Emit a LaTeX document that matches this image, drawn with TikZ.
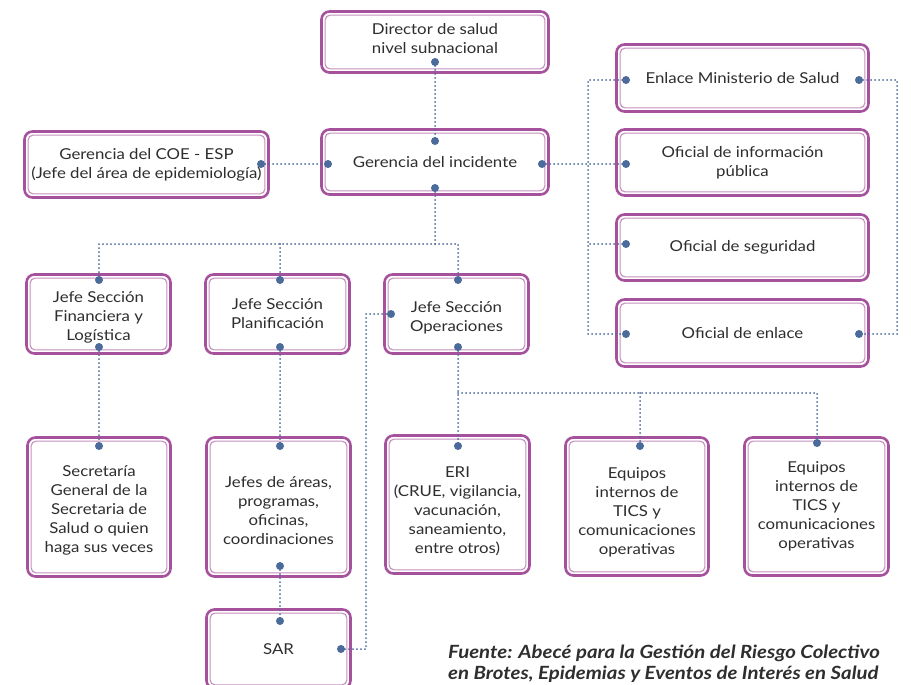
\documentclass[tikz,border=0pt]{standalone}
\usepackage{fontspec}
\setmainfont{Lato}[FakeStretch=1.12]
\definecolor{purp}{HTML}{A5519C}
\definecolor{purpl}{HTML}{C590BE}
\definecolor{conn}{HTML}{4B6B9B}
\definecolor{txt}{HTML}{2E2E2E}
\begin{document}
\begin{tikzpicture}[x=1pt,y=-1pt,
  boxtext/.style={text=txt, align=center, font=\fontsize{15}{19}\selectfont, inner sep=0pt},
  orgbox/.style={boxtext, draw=purp, line width=2.6pt, rounded corners=8pt, fill=white,
    path picture={\draw[purpl, line width=1.1pt, rounded corners=5pt]
      ([shift={(3.6pt,-3.6pt)}]path picture bounding box.north west) rectangle
      ([shift={(-3.6pt,3.6pt)}]path picture bounding box.south east);}},
  tx/.style 2 args={label={[boxtext,yshift=#1]center:{#2}}},
  link/.style={conn, line width=2pt, line cap=round, dash pattern=on 0pt off 4pt},
  pin/.style={fill=conn, draw=none}]
\clip (0,0) rectangle (911,685);
\fill[white] (0,0) rectangle (911,685);

% boxes
\node[orgbox, minimum width=227, minimum height=61, tx={3pt}{Director de salud\\nivel subnacional}] (dir) at (435,42) {};
\node[orgbox, minimum width=227, minimum height=65] (gi) at (435,162) {Gerencia del incidente};
\node[orgbox, minimum width=244, minimum height=66] (coe) at (146.5,164.5) {Gerencia del COE - ESP\\(Jefe del área de epidemiología)};
\node[orgbox, minimum width=252, minimum height=67] (enl) at (742.5,78) {Enlace Ministerio de Salud};
\node[orgbox, minimum width=252, minimum height=66] (info) at (742.5,162.5) {Oficial de información\\pública};
\node[orgbox, minimum width=252, minimum height=66] (seg) at (742.5,247.5) {Oficial de seguridad};
\node[orgbox, minimum width=252, minimum height=67] (ofe) at (742.5,333) {Oficial de enlace};
\node[orgbox, minimum width=144, minimum height=79, tx={-3.5pt}{Jefe Sección\\Financiera y\\Logística}] (jf) at (98.5,314) {};
\node[orgbox, minimum width=144, minimum height=79] (jp) at (277.5,314) {Jefe Sección\\Planificación};
\node[orgbox, minimum width=144, minimum height=79, tx={-3.5pt}{Jefe Sección\\Operaciones}] (jo) at (456.5,314) {};
\node[orgbox, minimum width=143, minimum height=139, tx={-3.5pt}{Secretaría\\General de la\\Secretaria de\\Salud o quien\\haga sus veces}] (sec) at (99,507) {};
\node[orgbox, minimum width=144, minimum height=139, tx={-3.5pt}{Jefes de áreas,\\programas,\\oficinas,\\coordinaciones}] (ja) at (278.5,507) {};
\node[orgbox, minimum width=144, minimum height=138, tx={-7pt}{ERI\\(CRUE, vigilancia,\\vacunación,\\saneamiento,\\entre otros)}] (eri) at (457.5,504.5) {};
\node[orgbox, minimum width=143, minimum height=138, tx={-6pt}{Equipos\\internos de\\TICS y\\comunicaciones\\operativas}] (eq1) at (637,506.5) {};
\node[orgbox, minimum width=144, minimum height=138] (eq2) at (816.5,506.5) {Equipos\\internos de\\TICS y\\comunicaciones\\operativas};
\node[orgbox, minimum width=144, minimum height=79] (sar) at (278.5,649) {SAR};

\node[anchor=north west, align=left, inner sep=0pt, text=txt,
  font=\fontsize{18.2}{21}\selectfont\bfseries\itshape] (src) at (448,645)
  {Fuente: Abecé para la Gestión del Riesgo Colectivo\\en Brotes, Epidemias y Eventos de Interés en Salud};

% connection points
\coordinate (dirB) at (435,62);
\coordinate (giT) at (435,141);
\coordinate (giL) at (328,164);
\coordinate (giR) at (542,164);
\coordinate (giB) at (435,188);
\coordinate (coeR) at (261,164);
\coordinate (enlL) at (626,80);
\coordinate (enlR) at (859,80);
\coordinate (infoL) at (626,164);
\coordinate (segL) at (626,244);
\coordinate (ofeL) at (626,334);
\coordinate (ofeR) at (859,334);
\coordinate (spL) at (588,200);
\coordinate (spR) at (897,200);
\coordinate (bus1) at (435,244);
\coordinate (jfT) at (99,280);
\coordinate (jfB) at (99,347);
\coordinate (jpT) at (280,280);
\coordinate (jpB) at (280,347);
\coordinate (joT) at (458,280);
\coordinate (joB) at (458,347);
\coordinate (joL) at (391,314);
\coordinate (secT) at (99,446);
\coordinate (jaT) at (280,446);
\coordinate (jaB) at (280,566);
\coordinate (eriT) at (458,446);
\coordinate (eq1T) at (640,446);
\coordinate (eq2T) at (817,443);
\coordinate (bus2) at (458,393);
\coordinate (sarT) at (280,621);
\coordinate (sarR) at (341,649);
\coordinate (opsp) at (366,480);

% connectors
\draw[link] (dirB) -- (giT);
\draw[link] (coeR) -- (giL);
\draw[link] (giR) -- (infoL);
\draw[link] (enlL) -| (spL) |- (ofeL);
\draw[link] (segL) -- (segL -| spL);
\draw[link] (enlR) -| (spR) |- (ofeR);
\draw[link] (giB) -- (bus1);
\draw[link] (jfT) |- (bus1) -| (joT);
\draw[link] (jpT) -- (jpT |- bus1);
\draw[link] (jfB) -- (secT);
\draw[link] (jpB) -- (jaT);
\draw[link] (jaB) -- (sarT);
\draw[link] (sarR) -| (opsp) |- (joL);
\draw[link] (joB) -- (eriT);
\draw[link] (bus2) -| (eq2T);
\draw[link] (eq1T |- bus2) -- (eq1T);

\foreach \p in {dirB,giT,giL,giR,giB,coeR,enlL,enlR,infoL,segL,ofeL,ofeR,jfT,jfB,jpT,jpB,joT,joB,joL,secT,jaT,jaB,eriT,eq1T,eq2T,sarT,sarR}
  \fill[pin] (\p) circle (4pt);
\end{tikzpicture}
\end{document}
